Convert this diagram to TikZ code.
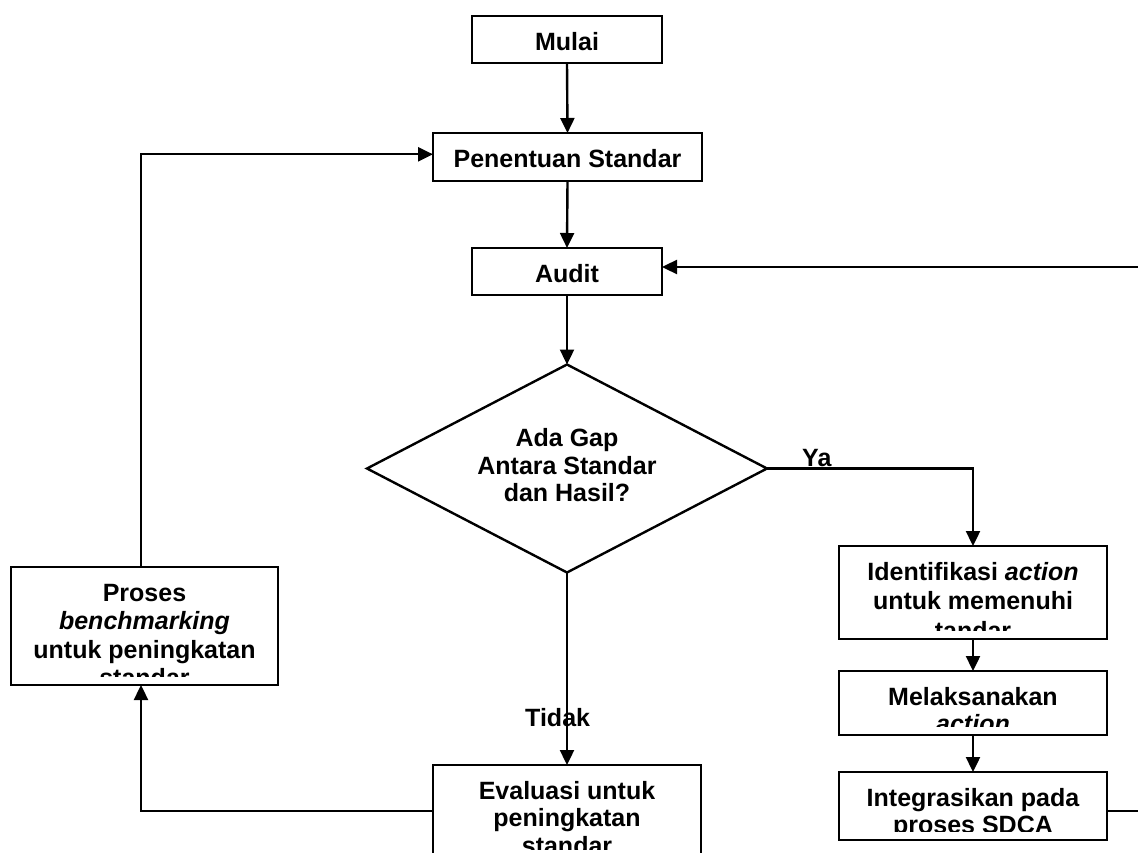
\documentclass[tikz,border=0pt]{standalone}
\usepackage{fontspec}
\setmainfont{Liberation Sans}
\usetikzlibrary{arrows.meta,shapes.geometric}

\tikzset{
  ln/.style={line width=2.4pt, line join=miter},
  arr/.style={ln, -{Triangle[length=15pt,width=14pt]}},
  stepbox/.style={draw, ln, rectangle, inner sep=0pt, outer sep=0pt},
  decision/.style={draw, ln, diamond, inner sep=0pt, outer sep=0pt,
    minimum width=400pt, minimum height=208pt},
  txt/.style={inner sep=0pt, align=center,
    font=\fontsize{25}{27.5}\selectfont\bfseries},
  lbl/.style={inner sep=0pt, font=\fontsize{25}{27.5}\selectfont\bfseries}
}

% text of a box, cut off at the lower inner margin of the box
\newcommand\boxtext[3][27.5]{%
  \begin{scope}
    \clip (#2.north west) rectangle ([yshift=9pt]#2.south east);
    \node[txt, font=\fontsize{25}{#1}\selectfont\bfseries, anchor=north]
      (#2-t) at ([yshift=-11pt]#2.north) {\rule{0pt}{23pt}#3};
  \end{scope}}

\begin{document}
\begin{tikzpicture}[x=1pt, y=-1pt]
  \useasboundingbox (0,0) rectangle (1138,853);
  \clip (0,0) rectangle (1138,853);

  % boxes
  \node[stepbox, minimum width=190pt, minimum height=47pt] (mulai) at (567,39.5) {};
  \node[stepbox, minimum width=269pt, minimum height=48pt] (penentuan) at (567.5,157) {};
  \node[stepbox, minimum width=190pt, minimum height=47pt] (audit) at (567,271.5) {};
  \node[decision] (gap) at (567,468.5) {};
  \node[stepbox, minimum width=268pt, minimum height=93pt] (identifikasi) at (973,592.5) {};
  \node[stepbox, minimum width=268pt, minimum height=64pt] (melaksanakan) at (973,703) {};
  \node[stepbox, minimum width=268pt, minimum height=68pt] (integrasi) at (973,806) {};
  \node[stepbox, minimum width=268pt, minimum height=93pt] (evaluasi) at (567,811.5) {};
  \node[stepbox, minimum width=267pt, minimum height=118pt] (proses) at (144.5,626) {};

  % box texts
  \boxtext{mulai}{Mulai}
  \boxtext{penentuan}{Penentuan Standar}
  \boxtext{audit}{Audit}
  \boxtext[29.5]{identifikasi}{Identifikasi \textit{action}\\untuk memenuhi\\tandar}
  \boxtext{melaksanakan}{Melaksanakan\\\textit{action}}
  \boxtext{integrasi}{Integrasikan pada\\proses SDCA}
  \boxtext{evaluasi}{Evaluasi untuk\\peningkatan\\standar}
  \boxtext[28.5]{proses}{Proses\\\textit{benchmarking}\\untuk peningkatan\\standar}
  \node[txt, anchor=north] (gap-t) at ([yshift=-(446.7-23)]0,0 -| gap.center)
    {\rule{0pt}{23pt}Ada Gap\\Antara Standar\\dan Hasil?};

  % branch labels
  \node[lbl, anchor=base west] (ya) at (802,466) {Ya};
  \node[lbl, anchor=base west] (tidak) at (525,726) {Tidak};

  % rails for the loops
  \coordinate (leftrail) at (141,0);
  \coordinate (rightrail) at (1160,0);
  \coordinate (topY) at (0,154.3);
  \coordinate (lowY) at (0,811);
  \coordinate (auditY) at (0,267);

  % connectors
  \draw[arr] (mulai.south) -- (penentuan.north);
  \draw[arr] (penentuan.south) -- (audit.north);
  \draw[arr] (audit.south) -- (gap.north);
  \draw[arr] (gap.east) -| (identifikasi.north);
  \draw[arr] (gap.south) -- (evaluasi.north);
  \draw[arr] (identifikasi.south) -- (melaksanakan.north);
  \draw[arr] (melaksanakan.south) -- (integrasi.north);
  \draw[arr] (integrasi.east |- lowY) -- (rightrail |- lowY)
    -- (rightrail |- auditY) -- (audit.east |- auditY);
  \draw[arr] (evaluasi.west |- lowY) -| (leftrail |- proses.south);
  \draw[arr] (leftrail |- proses.north) |- (penentuan.west |- topY);
\end{tikzpicture}
\end{document}
